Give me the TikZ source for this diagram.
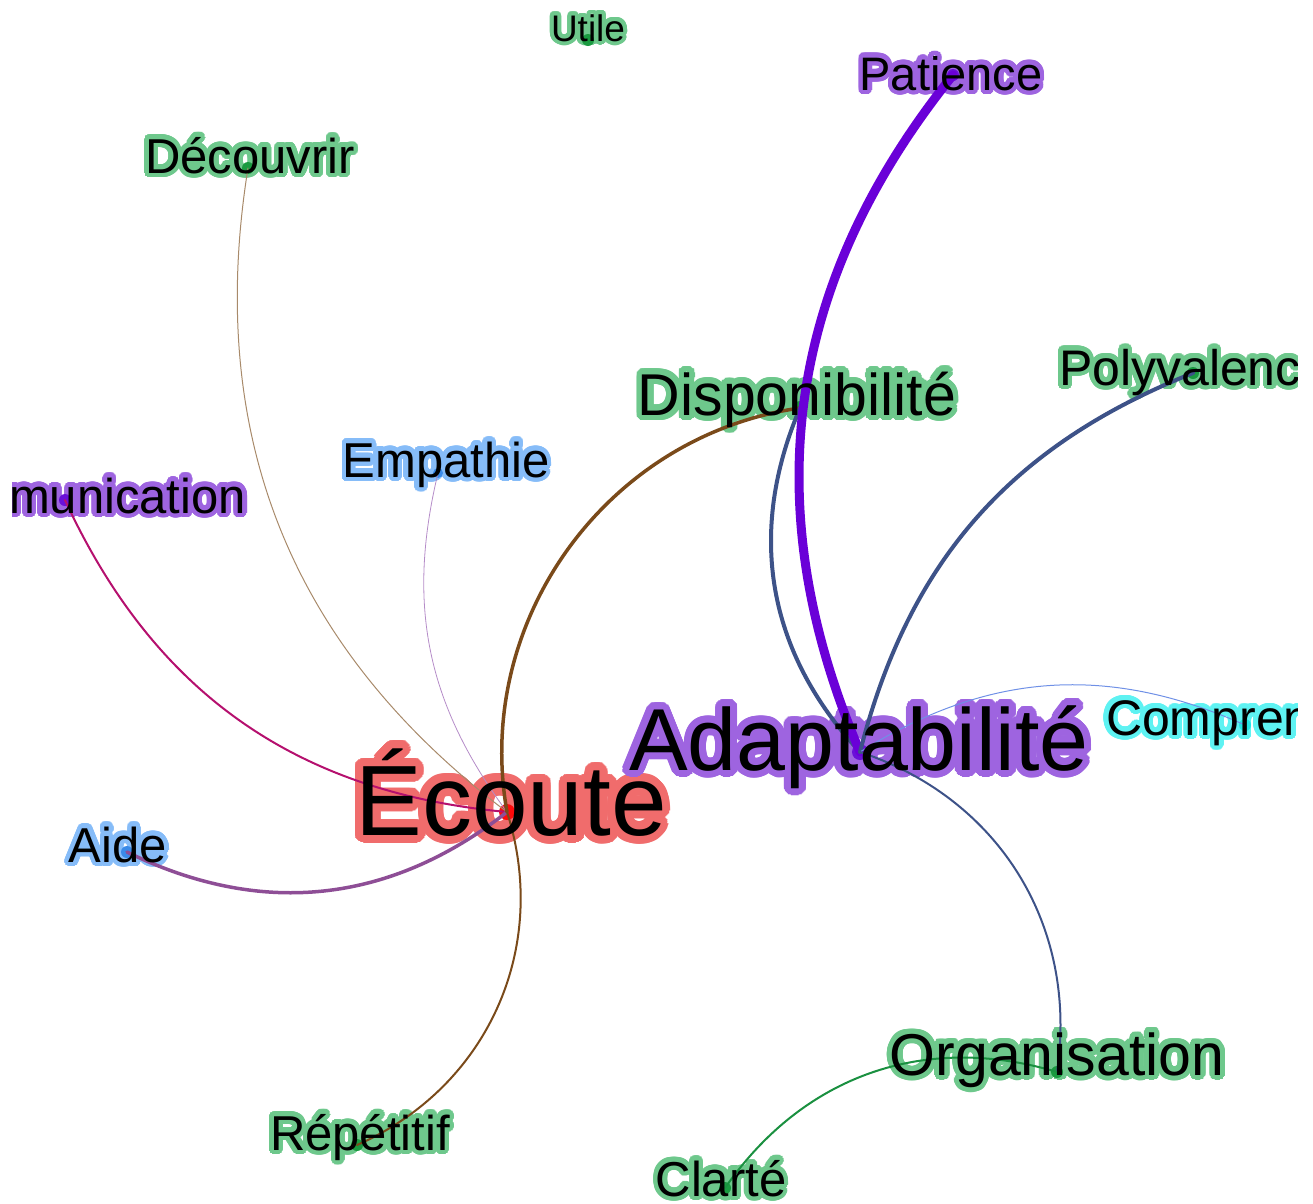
\documentclass[tikz,border=0pt]{standalone}
\usepackage{fontspec}
\setmainfont{Liberation Sans}
\usepackage{contour}
\contournumber{32}
\definecolor{hgreen}{HTML}{6EC88C}
\definecolor{hpurple}{HTML}{9E64E0}
\definecolor{hred}{HTML}{F06C6C}
\definecolor{hblue}{HTML}{86BCF8}
\definecolor{hcyan}{HTML}{5EF2F2}
\definecolor{dgreen}{HTML}{1A9A40}
\definecolor{dpurple}{HTML}{6A10D8}
\definecolor{dred}{HTML}{FF0A0A}
\definecolor{dblue}{HTML}{3A8AE8}
\definecolor{dcyan}{HTML}{22E6E6}
\definecolor{eslate}{HTML}{3D5288}
\definecolor{ebrown}{HTML}{7A4A1A}
\definecolor{etan}{HTML}{A88A6A}
\definecolor{emauve}{HTML}{B58CC8}
\definecolor{emagenta}{HTML}{B5106E}
\definecolor{eplum}{HTML}{8E4E96}
\definecolor{eviolet}{HTML}{6A00D8}
\definecolor{elight}{HTML}{6F90E6}
\definecolor{egreen}{HTML}{1A9040}
\pgfdeclarelayer{halo}
\pgfdeclarelayer{front}
\pgfsetlayers{halo,main,front}
\tikzset{
  lbl/.style={inner sep=0pt, outer sep=0pt, text=black},
  dot/.style={circle, inner sep=0pt, outer sep=0pt, minimum size=#1},
  dot/.default=12pt,
  edge/.style={line cap=round}
}
\newcommand{\lab}[7]{%
  \begin{pgfonlayer}{halo}
    \node[lbl, anchor=#3, font=\fontsize{#4}{#4}\selectfont, text=#5] (#1h) at (#2) {\contourlength{#6}\contour{#5}{#7}};
  \end{pgfonlayer}
  \begin{pgfonlayer}{front}
    \node[lbl, anchor=#3, font=\fontsize{#4}{#4}\selectfont] (#1) at (#2) {#7};
  \end{pgfonlayer}}
\begin{document}
\begin{tikzpicture}[x=1pt, y=-1pt]
\useasboundingbox (0,0) rectangle (1313,1203);
% labels
\lab{tEcoute}{511,835}{base}{100}{hred}{8pt}{Écoute}
\lab{tAdapt}{859,770}{base}{88}{hpurple}{7pt}{Adaptabilité}
\lab{tDispo}{797,415}{base}{59}{hgreen}{5.5pt}{Disponibilité}
\lab{tPatience}{951,90}{base}{47}{hpurple}{4.5pt}{Patience}
\lab{tPoly}{1059,385}{base west}{50}{hgreen}{4.5pt}{Polyvalence}
\lab{tCompr}{1245,735}{base}{50}{hcyan}{4.5pt}{Comprendre}
\lab{tComm}{246,513}{base east}{49}{hpurple}{4.5pt}{Communication}
\lab{tEmpathie}{446,477}{base}{49}{hblue}{4.5pt}{Empathie}
\lab{tDecouvrir}{250,173}{base}{49}{hgreen}{4.5pt}{Découvrir}
\lab{tUtile}{588,41}{base}{37}{hgreen}{4pt}{Utile}
\lab{tAide}{118,862}{base}{49}{hblue}{4.5pt}{Aide}
\lab{tRepetitif}{360,1150}{base}{49}{hgreen}{4.5pt}{Répétitif}
\lab{tOrga}{1057,1075}{base}{59}{hgreen}{5pt}{Organisation}
\lab{tClarte}{721,1196}{base}{49}{hgreen}{4.5pt}{Clarté}
% node dots
\node[dot=16pt, fill=dred] (Ecoute) at (507,812) {};
\node[dot=16pt, fill=dpurple] (Adapt) at (860,752) {};
\node[dot=14pt, fill=dgreen] (Dispo) at (800,408) {};
\node[dot, fill=dpurple] (Patience) at (953,75) {};
\node[dot, fill=dgreen] (Poly) at (1193,373) {};
\node[dot, fill=dcyan] (Compr) at (1245,725) {};
\node[dot, fill=dpurple] (Comm) at (65,500) {};
\node[dot=10pt, fill=dblue] (Empathie) at (438,473) {};
\node[dot, fill=dgreen] (Decouvrir) at (248,168) {};
\node[dot, fill=dgreen] (Utile) at (588,40) {};
\node[dot, fill=dblue] (Aide) at (127,852) {};
\node[dot, fill=dgreen] (Repetitif) at (357,1145) {};
\node[dot, fill=dgreen] (Orga) at (1057,1072) {};
\node[dot, fill=dgreen] (Clarte) at (725,1188) {};
% edges
\begin{scope}[edge]
\draw[etan, line width=1pt] (Ecoute.center) to[bend left=31] (Decouvrir.center);
\draw[emauve, line width=0.8pt] (Ecoute.center) to[bend left=25] (Empathie.center);
\draw[emagenta, line width=2pt] (Ecoute.center) to[bend left=30] (Comm.center);
\draw[eplum, line width=3.5pt] (Ecoute.center) to[bend left=32] (Aide.center);
\draw[ebrown, line width=2pt] (Ecoute.center) to[bend left=42] (Repetitif.center);
\draw[ebrown, line width=3.5pt] (Ecoute.center) to[bend left=46] (Dispo.center);
\draw[eslate, line width=4pt] (Adapt.center) to[bend left=33] (Dispo.center);
\draw[eviolet, line width=9pt] (Adapt.center) to[bend left=31] (Patience.center);
\draw[eslate, line width=4pt] (Adapt.center) to[bend left=27] (Poly.center);
\draw[elight, line width=1pt] (Adapt.center) to[bend left=28] (Compr.center);
\draw[eslate, line width=2pt] (Adapt.center) to[bend left=40] (Orga.center);
\draw[egreen, line width=2pt] (Clarte.center) to[bend left=36] (Orga.center);
\end{scope}
% white margins
\begin{pgfonlayer}{front}
\fill[white] (0,0) rectangle (12,1203);
\fill[white] (1298,0) rectangle (1313,1203);
\end{pgfonlayer}
\end{tikzpicture}
\end{document}
